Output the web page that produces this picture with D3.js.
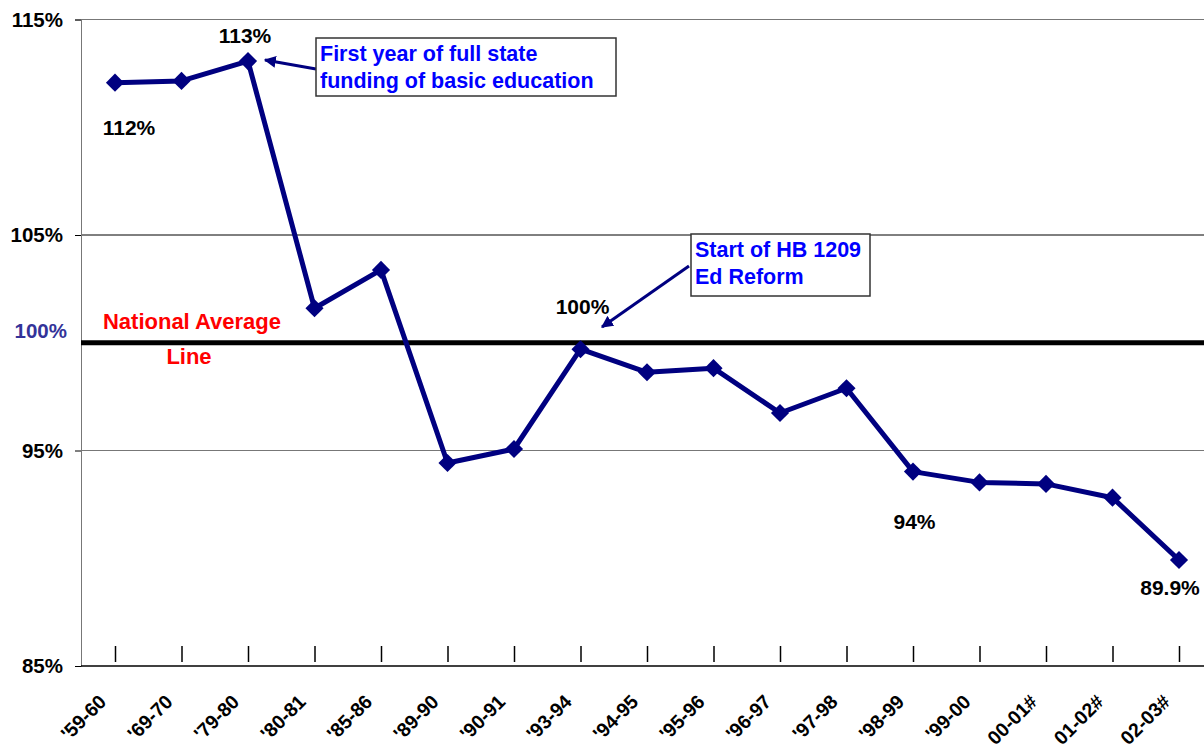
<!DOCTYPE html>
<html><head><meta charset="utf-8">
<script src="https://cdn.jsdelivr.net/npm/d3@7"></script>
<style>
body{margin:0;background:#fff;}
text{font-family:"Liberation Sans",Arial,sans-serif;font-weight:bold;}
</style></head>
<body>
<svg id="c" width="1204" height="749"></svg>
<script>
const categories = ["'59-60","'69-70","'79-80","'80-81","'85-86","'89-90","'90-91","'93-94","'94-95","'95-96","'96-97","'97-98","'98-99","'99-00","00-01#","01-02#","02-03#"];
const values = [112.07,112.15,113.07,101.6,103.38,94.42,95.07,99.7,98.63,98.82,96.74,97.89,94.02,93.52,93.45,92.81,89.92];
const yTicks = [85,95,100,105,115];
const yTickLabels = ["85%","95%","100%","105%","115%"];
const gridValues = [95,105,115];
const nationalAverage = 100;
const pointLabels = [
  {i:0, text:"112%", dx:14, dy:52},
  {i:2, text:"113%", dx:-3, dy:-18},
  {i:7, text:"100%", dx:2, dy:-35},
  {i:12, text:"94%", dx:1.5, dy:57},
  {i:16, text:"89.9%", dx:-9, dy:35}
];
const notes = [
  {lines:["First year of full state","funding of basic education"], box:[316,38,616,96], from:[316,69], to:[265,60]},
  {lines:["Start of HB 1209","Ed Reform"], box:[691,234,870,296], from:[689,266], to:[602,327]}
];

const svg = d3.select("#c");
const x = d3.scalePoint().domain(categories).range([115,1179]);
const y = d3.scaleLinear().domain([85,115]).range([666,19.5]);
const left = 81, right = 1204;
const FONT = "Liberation Sans, Arial, sans-serif";

svg.append("defs").append("marker").attr("id","arr").attr("viewBox","0 0 10 10")
  .attr("refX",9).attr("refY",5).attr("markerWidth",4).attr("markerHeight",4).attr("orient","auto")
  .append("path").attr("d","M0,0L10,5L0,10z").attr("fill","#000080");

// gridlines
svg.append("g").selectAll("line").data(gridValues).join("line")
  .attr("x1",left).attr("x2",right).attr("y1",d=>y(d)).attr("y2",d=>y(d))
  .attr("stroke",d=>d===105?"#000":"#777").attr("stroke-width",1);

// y axis
const yAxis = d3.axisLeft(y).tickValues(yTicks).tickSize(6).tickFormat((d,i)=>yTickLabels[i]);
const gy = svg.append("g").attr("transform",`translate(${left},0)`).call(yAxis);
gy.select(".domain").attr("stroke","#777");
gy.selectAll(".tick line").attr("stroke",d=>d===100?"none":"#000");
gy.selectAll(".tick text").attr("x",d=>d===100?-14:-18).attr("dy",d=>d===100?"-0.28em":"0.32em")
  .attr("font-size",20.5).attr("font-weight","bold").attr("font-family",FONT)
  .attr("fill",d=>d===100?"#333399":"#000");

// x axis
svg.append("line").attr("x1",left).attr("x2",right).attr("y1",y(85)).attr("y2",y(85)).attr("stroke","#000").attr("stroke-width",1.5);
const xAxis = d3.axisBottom(x).tickSize(-16).tickPadding(0);
const gx = svg.append("g").attr("transform",`translate(0,${y(85)-4})`).call(xAxis);
gx.select(".domain").remove();
gx.selectAll(".tick line").attr("stroke","#000").attr("stroke-width",1.5);
gx.selectAll(".tick text").attr("font-size",19.5).attr("font-weight","bold").attr("font-family",FONT).attr("fill","#000")
  .attr("text-anchor","end").attr("dy",null).attr("y",0)
  .attr("transform","translate(-8,41) rotate(-45)");

// national average line
svg.append("line").attr("x1",left).attr("x2",right).attr("y1",y(nationalAverage)).attr("y2",y(nationalAverage))
  .attr("stroke","#000").attr("stroke-width",5);
svg.append("text").attr("x",192).attr("y",329).attr("text-anchor","middle").attr("fill","#ff0000").attr("font-size",22).text("National Average");
svg.append("text").attr("x",189).attr("y",364).attr("text-anchor","middle").attr("fill","#ff0000").attr("font-size",22).text("Line");

// series
const line = d3.line().x((d,i)=>x(categories[i])).y(d=>y(d));
svg.append("path").datum(values).attr("d",line).attr("fill","none").attr("stroke","#000080").attr("stroke-width",5).attr("stroke-linejoin","round");
svg.append("g").selectAll("path").data(values).join("path")
  .attr("d",d3.symbol(d3.symbolSquare,165)())
  .attr("transform",(d,i)=>`translate(${x(categories[i])},${y(d)}) rotate(45)`)
  .attr("fill","#000080");

// point labels
svg.append("g").selectAll("text").data(pointLabels).join("text")
  .attr("x",d=>x(categories[d.i])+d.dx).attr("y",d=>y(values[d.i])+d.dy)
  .attr("text-anchor","middle").attr("font-size",21).attr("fill","#000").text(d=>d.text);

// notes
notes.forEach(n=>{
  svg.append("line").attr("x1",n.from[0]).attr("y1",n.from[1]).attr("x2",n.to[0]).attr("y2",n.to[1])
    .attr("stroke","#000080").attr("stroke-width",3).attr("marker-end","url(#arr)");
  const [x0,y0,x1,y1]=n.box;
  svg.append("rect").attr("x",x0).attr("y",y0).attr("width",x1-x0).attr("height",y1-y0)
    .attr("fill","#fff").attr("stroke","#333").attr("stroke-width",1.5);
  n.lines.forEach((t,k)=>{
    svg.append("text").attr("x",x0+4).attr("y",y0+23+k*26.5).attr("font-size",21.5).attr("fill","#0000ff").text(t);
  });
});
</script>
</body></html>
